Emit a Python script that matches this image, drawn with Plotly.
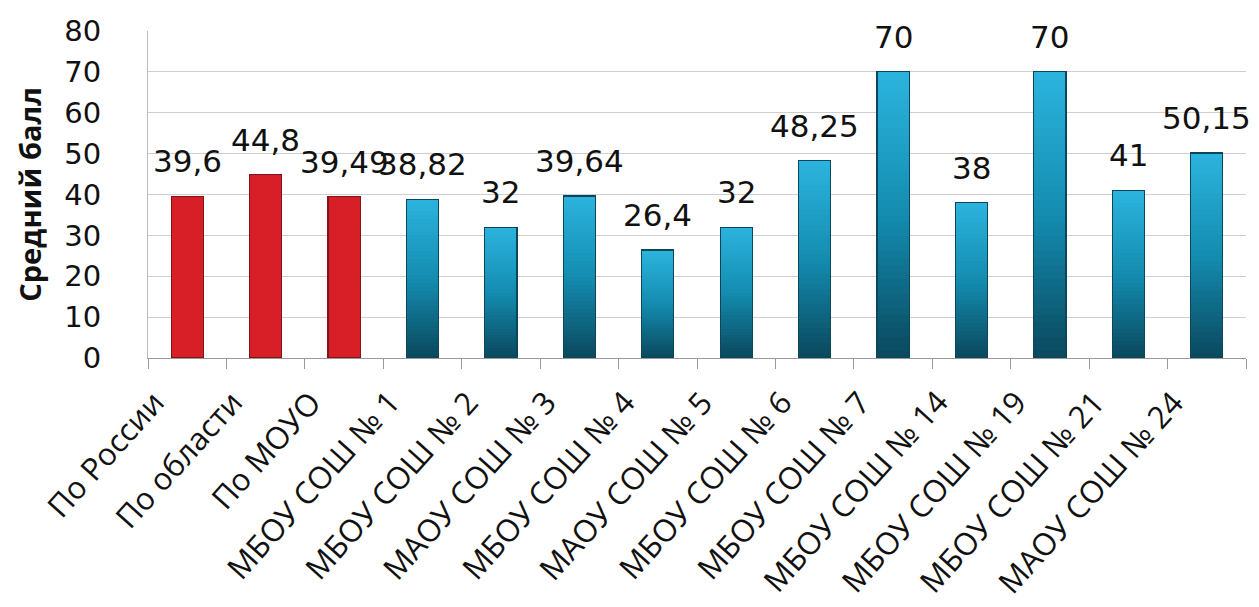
import plotly.graph_objects as go

categories = ["По России", "По области", "По МОУО", "МБОУ СОШ № 1", "МБОУ СОШ № 2",
              "МАОУ СОШ № 3", "МБОУ СОШ № 4", "МАОУ СОШ № 5", "МБОУ СОШ № 6",
              "МБОУ СОШ № 7", "МБОУ СОШ № 14", "МБОУ СОШ № 19", "МБОУ СОШ № 21",
              "МАОУ СОШ № 24"]
values = [39.6, 44.8, 39.49, 38.82, 32, 39.64, 26.4, 32, 48.25, 70, 38, 70, 41, 50.15]
value_labels = ["39,6", "44,8", "39,49", "38,82", "32", "39,64", "26,4", "32",
                "48,25", "70", "38", "70", "41", "50,15"]
is_summary = [True, True, True] + [False] * 11
y_ticks = [0, 10, 20, 30, 40, 50, 60, 70, 80]

RED = (216, 30, 39)
TOP = (44, 180, 222)
MID = (20, 140, 176)
BOT = (10, 72, 92)


def lerp(a, b, t):
    return tuple(round(a[i] + (b[i] - a[i]) * t) for i in range(3))


def blue_at(t):  # t: 0 bottom -> 1 top
    if t < 0.5:
        return lerp(BOT, MID, t / 0.5)
    return lerp(MID, TOP, (t - 0.5) / 0.5)


N = 40
fig = go.Figure()
for k in range(N):
    t = (k + 0.5) / N
    cols = []
    for s in is_summary:
        c = RED if s else blue_at(t)
        cols.append("rgb(%d,%d,%d)" % c)
    fig.add_trace(go.Bar(
        x=categories, y=[v / N for v in values],
        marker=dict(color=cols, line=dict(width=0)),
        hoverinfo="skip", showlegend=False,
    ))

# outline overlay
outline_cols = ["rgb(130,20,25)" if s else "rgb(12,70,90)" for s in is_summary]
fig.add_trace(go.Bar(
    x=categories, y=values, xaxis="x2",
    marker=dict(color="rgba(0,0,0,0)", line=dict(color=outline_cols, width=1.2)),
    showlegend=False, hovertemplate="%{x}: %{y}<extra></extra>",
))

for c, v, lab in zip(categories, values, value_labels):
    fig.add_annotation(x=c, y=v, text=lab, showarrow=False, yanchor="bottom",
                       yshift=15, font=dict(family="DejaVu Sans", size=31, color="#111"))

# category labels (rotated) as annotations for exact placement
for c in categories:
    fig.add_annotation(x=c, y=0, text=c, showarrow=False, textangle=-48,
                       xanchor="right", yanchor="top", xshift=-12, yshift=-21,
                       font=dict(family="Open Sans", size=31, color="#111"))

fig.update_layout(
    barmode="stack",
    bargap=0.59,
    width=1259, height=607,
    margin=dict(l=148, r=13, t=31, b=249),
    plot_bgcolor="white", paper_bgcolor="white",
    xaxis=dict(
        type="category", categoryorder="array", categoryarray=categories,
        showticklabels=False,
        showline=True, linecolor="#999", linewidth=1,
        ticks="outside", ticklen=10, tickcolor="#999", tickson="boundaries",
        showgrid=False, range=[-0.5, 13.5], automargin=False,
    ),
    xaxis2=dict(
        type="category", categoryorder="array", categoryarray=categories,
        overlaying="x", matches="x", visible=False, range=[-0.5, 13.5],
    ),
    yaxis=dict(
        range=[0, 80], tickvals=y_ticks,
        tickfont=dict(family="DejaVu Sans", size=29, color="#111"),
        ticklabelstandoff=40,
        showgrid=True, gridcolor="#cfcfcf", gridwidth=1,
        showline=True, linecolor="#bbb", ticks="", zeroline=False,
        automargin=False,
        title=dict(text="Средний балл",
                   font=dict(family="Open Sans", size=29, color="#111", weight="bold"),
                   standoff=14),
    ),
)

fig.write_html("out.html", config={"displayModeBar": False},
               post_script="document.body.style.margin='0';document.body.style.overflow='hidden';")
